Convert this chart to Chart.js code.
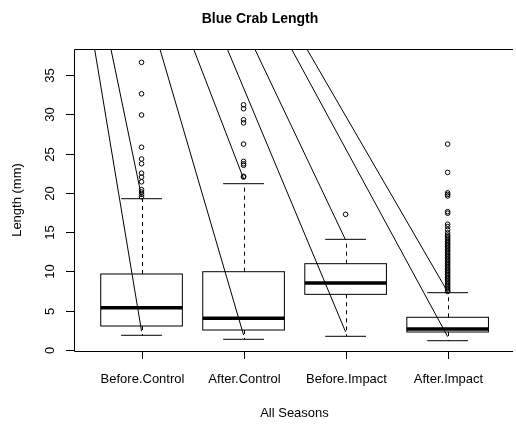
<!DOCTYPE html>
<html>
<head>
<meta charset="utf-8">
<script src="https://cdn.jsdelivr.net/npm/chart.js"></script>
<style>
  html, body { margin: 0; padding: 0; background: #fff; overflow: hidden; }
  #wrap { position: relative; width: 516px; height: 426px; }
</style>
</head>
<body>
<div id="wrap"><canvas id="crab"></canvas></div>
<script>
// Blue crab length by period / site
const categories = ['Before.Control', 'After.Control', 'Before.Impact', 'After.Impact'];
const lowerWhisker = [1.87, 1.36, 1.74, 1.18];
const lowerHinge = [3.05, 2.54, 7.08, 2.29];
const medians = [5.38, 4.03, 8.52, 2.67];
const upperHinge = [9.67, 9.96, 10.98, 4.16];
const upperWhisker = [19.25, 21.16, 14.08, 7.29];

const outBeforeControl = [36.6, 32.6, 29.9, 25.8, 24.3, 23.7, 22.5, 22.0, 21.4, 20.4, 20.1, 19.8, 19.5];
const outAfterControl = [31.2, 30.7, 29.3, 28.9, 26.2, 24.0, 23.7, 23.5, 22.1, 22.0];
const outBeforeImpact = [17.26];
const outAfterImpact = [26.2, 22.6, 20.0, 19.8, 19.6, 17.6, 17.4, 16.0, 15.7, 15.3, 14.9, 14.6, 14.4,
  14.2, 14.0, 13.8, 13.6, 13.4, 13.2, 13.0, 12.8, 12.6, 12.4, 12.2, 12.0, 11.8, 11.6, 11.4, 11.2,
  11.0, 10.8, 10.6, 10.4, 10.2, 10.0, 9.8, 9.6, 9.4, 9.2, 9.0, 8.8, 8.6, 8.4, 8.2, 8.0, 7.8, 7.6, 7.45];
const outliers = [outBeforeControl, outAfterControl, outBeforeImpact, outAfterImpact];

// straight reference lines: where each one leaves the top of the frame, and where it ends
const guideTopX = [0.54, 0.70, 1.18, 1.51, 1.84, 2.11, 2.47, 2.62];
const guideEndX = [1, 1, 2, 2, 3, 3, 4, 4];
const guideEndY = [2.4, 19.5, 1.9, 21.8, 2.3, 14.0, 1.7, 7.4];

const yTicks = [0, 5, 10, 15, 20, 25, 30, 35];
const yMin = -0.13, yMax = 38.3;
const xMin = 0.338, xMax = 4.621;

const FONT = '"Liberation Sans", Arial, Helvetica, sans-serif';

const datasets = [];
guideTopX.forEach((tx, i) => {
  datasets.push({
    type: 'line',
    data: [{ x: tx, y: yMax }, { x: guideEndX[i], y: guideEndY[i] }],
    borderColor: '#000',
    borderWidth: 1,
    pointRadius: 0,
    fill: false,
    tension: 0
  });
});
datasets.push({
  type: 'scatter',
  data: outliers.flatMap((vals, i) => vals.map(v => ({ x: i + 1, y: v }))),
  pointStyle: 'circle',
  pointRadius: 2.3,
  borderWidth: 1,
  borderColor: '#000',
  backgroundColor: 'rgba(0,0,0,0)'
});

function line(ctx, x1, y1, x2, y2) {
  ctx.beginPath();
  ctx.moveTo(x1, y1);
  ctx.lineTo(x2, y2);
  ctx.stroke();
}

const boxPlugin = {
  id: 'boxes',
  beforeDatasetsDraw(chart) {
    const { ctx, scales: { x, y } } = chart;
    ctx.save();
    ctx.strokeStyle = '#000';
    categories.forEach((c, i) => {
      const cx = Math.round(x.getPixelForValue(i + 1)) + 0.5;
      const bl = x.getPixelForValue(i + 1 - 0.4), br = x.getPixelForValue(i + 1 + 0.4);
      const cl = x.getPixelForValue(i + 1 - 0.2), cr = x.getPixelForValue(i + 1 + 0.2);
      const yLo = y.getPixelForValue(lowerWhisker[i]);
      const yQ1 = y.getPixelForValue(lowerHinge[i]);
      const yMed = y.getPixelForValue(medians[i]);
      const yQ3 = y.getPixelForValue(upperHinge[i]);
      const yHi = y.getPixelForValue(upperWhisker[i]);
      // whiskers
      ctx.lineWidth = 1;
      ctx.setLineDash([4, 4]);
      line(ctx, cx, yQ3, cx, yHi);
      line(ctx, cx, yQ1, cx, yLo);
      ctx.setLineDash([]);
      line(ctx, cl, yHi, cr, yHi);
      line(ctx, cl, yLo, cr, yLo);
      // box
      ctx.strokeRect(bl, yQ3, br - bl, yQ1 - yQ3);
      // median
      ctx.lineWidth = 3.5;
      line(ctx, bl, yMed, br, yMed);
    });
    ctx.restore();
  },
  afterDraw(chart) {
    const { ctx, chartArea: a, scales: { x, y } } = chart;
    ctx.save();
    ctx.strokeStyle = '#000';
    ctx.fillStyle = '#000';
    ctx.lineWidth = 1;
    // frame (right edge falls outside the canvas)
    ctx.beginPath();
    ctx.moveTo(a.right + 2, a.top + 0.5);
    ctx.lineTo(a.left + 0.5, a.top + 0.5);
    ctx.lineTo(a.left + 0.5, a.bottom + 0.5);
    ctx.lineTo(a.right + 2, a.bottom + 0.5);
    ctx.stroke();

    // y axis ticks and labels
    ctx.font = '13px ' + FONT;
    ctx.textAlign = 'center';
    ctx.textBaseline = 'middle';
    yTicks.forEach(t => {
      const py = Math.round(y.getPixelForValue(t)) + 0.5;
      line(ctx, a.left - 8, py, a.left, py);
      ctx.save();
      ctx.translate(50, py);
      ctx.rotate(-Math.PI / 2);
      ctx.fillText(String(t), 0, 0);
      ctx.restore();
    });

    // x axis ticks and labels
    categories.forEach((c, i) => {
      const px = Math.round(x.getPixelForValue(i + 1)) + 0.5;
      line(ctx, px, a.bottom, px, a.bottom + 8);
      ctx.fillText(c, px, 379);
    });

    // axis titles
    ctx.fillText('All Seasons', (x.getPixelForValue(xMin) + x.getPixelForValue(4.66)) / 2, 413);
    ctx.save();
    ctx.translate(17, (a.top + a.bottom) / 2);
    ctx.rotate(-Math.PI / 2);
    ctx.fillText('Length (mm)', 0, 0);
    ctx.restore();

    // main title
    ctx.font = 'bold 14px ' + FONT;
    ctx.fillText('Blue Crab Length', 260, 19);
    ctx.restore();
  }
};

new Chart(document.getElementById('crab'), {
  type: 'scatter',
  data: { datasets },
  options: {
    responsive: true,
    maintainAspectRatio: false,
    animation: false,
    layout: { padding: { left: 74, top: 49, right: 0, bottom: 75 } },
    plugins: { legend: { display: false }, tooltip: { enabled: false }, title: { display: false } },
    scales: {
      x: { type: 'linear', min: xMin, max: xMax, display: false },
      y: { type: 'linear', min: yMin, max: yMax, display: false }
    }
  },
  plugins: [boxPlugin]
});
</script>
</body>
</html>
